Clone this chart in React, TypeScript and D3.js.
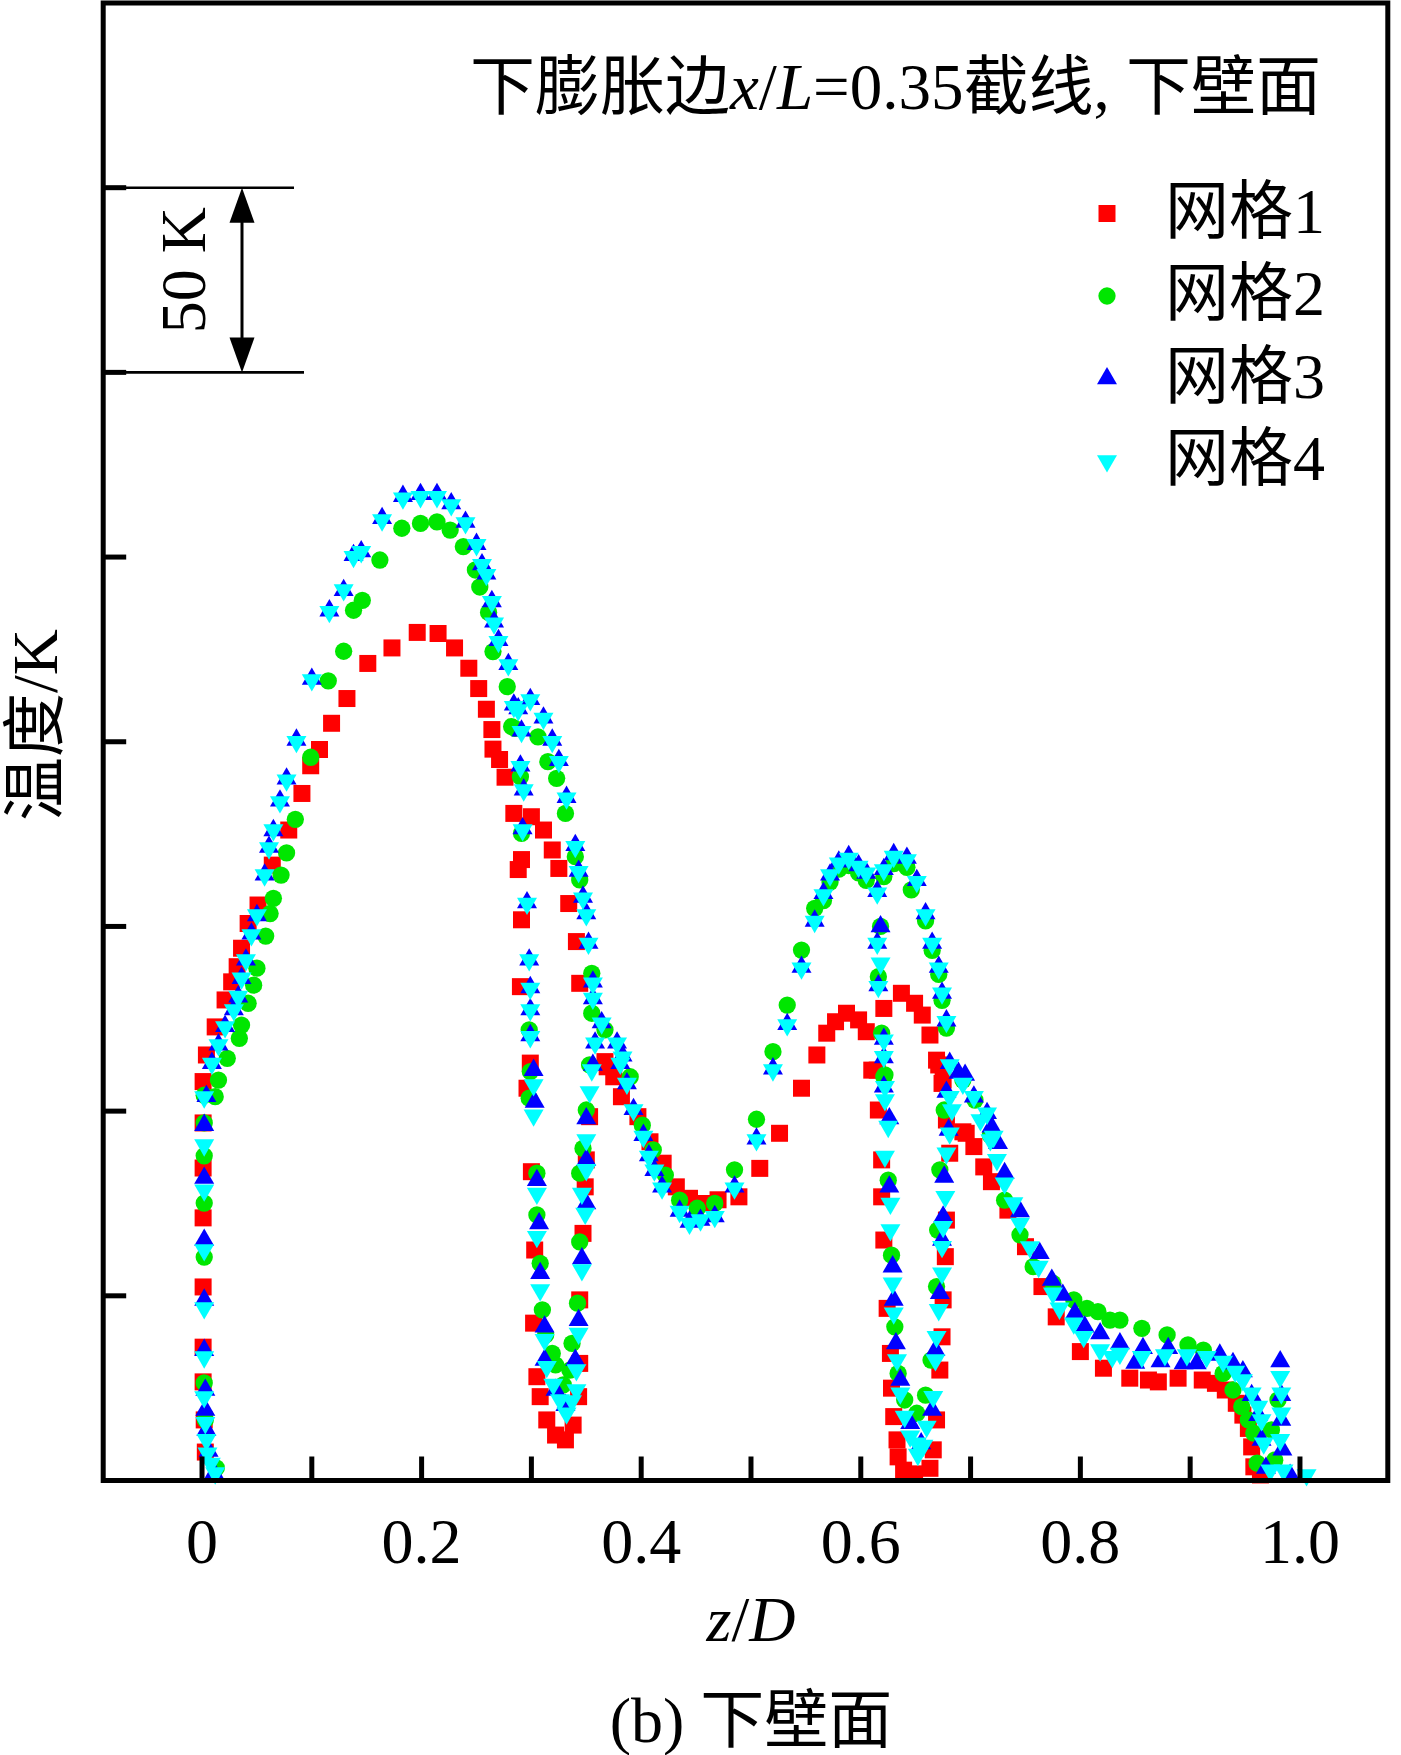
import React from "react";
import * as d3 from "d3";

// z/D , temperature (K above the axis baseline)
const grid1: [number, number][] = [
  [0.001,108.0],[0.001,96.8],[0.001,84.6],[0.001,71.1],[0.001,52.4],[0.001,36.1],[0.001,26.7],[0.002,16.4],[0.003,7.7],
  [0.004,115.2],[0.012,122.8],[0.021,130.1],[0.027,135.0],[0.032,139.1],[0.036,144.1],[0.042,150.8],[0.051,155.8],[0.064,166.6],
  [0.079,176.1],[0.091,186.0],[0.099,193.5],[0.107,197.9],[0.118,205.0],[0.132,211.7],[0.151,221.2],[0.173,225.4],[0.196,229.6],
  [0.215,229.3],[0.230,225.4],[0.243,219.9],[0.252,214.4],[0.259,208.8],[0.264,203.3],[0.265,198.0],[0.271,195.2],[0.276,190.4],
  [0.284,180.6],[0.300,179.7],[0.311,176.1],[0.319,170.7],[0.325,165.7],[0.334,156.2],[0.341,145.9],[0.344,134.6],[0.367,113.4],
  [0.291,168.1],[0.288,165.4],[0.291,151.8],[0.290,133.7],[0.296,106.2],[0.299,113.0],[0.300,83.6],[0.303,62.4],[0.302,42.6],
  [0.305,28.1],[0.308,22.7],[0.314,16.4],[0.322,12.3],[0.331,11.0],[0.338,15.0],[0.343,22.7],[0.344,31.7],[0.344,48.9],
  [0.347,66.9],[0.349,79.5],[0.350,86.8],[0.353,98.5],
  [0.369,112.0],[0.375,109.3],[0.382,103.9],[0.397,98.5],[0.408,91.7],[0.420,85.9],[0.432,79.5],[0.444,76.4],[0.457,75.0],
  [0.470,76.0],[0.489,76.8],[0.508,84.5],[0.526,94.0],[0.546,106.2],[0.560,115.2],[0.569,121.1],[0.577,124.2],[0.587,126.5],
  [0.598,124.7],[0.605,121.5],[0.615,111.1],[0.616,100.3],[0.621,127.8],[0.637,131.9],[0.649,129.2],[0.656,126.0],[0.663,120.6],
  [0.669,113.8],[0.674,107.5],[0.678,97.6],[0.696,94.0],
  [0.610,111.1],[0.619,86.8],[0.619,76.8],[0.621,65.1],[0.624,46.6],[0.627,34.4],[0.628,25.0],[0.630,17.3],[0.633,11.0],
  [0.634,6.4],[0.639,2.8],[0.649,1.8],[0.663,3.3],[0.666,8.3],[0.669,16.4],[0.672,29.9],[0.674,38.9],[0.675,48.9],
  [0.677,60.6],[0.678,70.5],[0.681,88.6],[0.675,108.4],[0.671,112.5],
  [0.693,94.4],[0.703,90.4],[0.712,84.9],[0.719,80.9],[0.734,73.2],[0.750,63.3],[0.765,52.5],[0.778,44.3],[0.800,34.9],
  [0.821,30.4],[0.845,27.7],[0.862,27.2],[0.871,26.7],[0.889,27.7],[0.911,27.2],[0.923,26.3],[0.932,24.5],[0.942,20.9],
  [0.948,17.7],[0.953,14.1],[0.956,9.1],[0.958,3.7],[0.964,1.5],
];

const grid2: [number, number][] = [
  [0.002,104.3],[0.002,96.8],[0.002,87.9],[0.002,75.1],[0.002,60.5],[0.002,26.4],[0.003,16.4],[0.013,3.4],
  [0.012,103.9],[0.015,108.4],[0.023,114.3],[0.034,119.7],[0.036,123.3],[0.042,129.2],[0.047,134.1],[0.050,138.7],[0.058,147.4],
  [0.062,153.5],[0.065,157.6],[0.072,163.9],[0.077,169.9],[0.085,179.0],[0.099,195.8],[0.115,216.5],[0.129,224.5],[0.138,235.6],
  [0.146,238.3],[0.162,249.2],[0.182,257.8],[0.199,259.1],[0.214,259.5],[0.226,257.3],[0.238,252.8],[0.249,246.5],[0.253,241.9],
  [0.261,235.0],[0.265,224.4],[0.278,214.9],[0.282,204.1],[0.285,203.6],[0.306,201.3],[0.315,194.6],[0.323,190.1],[0.290,190.5],
  [0.291,175.2],[0.331,180.6],[0.340,168.9],[0.344,162.6],[0.355,137.3],[0.355,126.5],[0.367,122.0],[0.298,122.0],
  [0.299,110.7],[0.298,103.5],[0.305,83.2],[0.305,71.9],[0.308,58.8],[0.310,46.2],[0.313,39.4],[0.319,34.4],[0.322,31.3],
  [0.329,25.9],[0.335,29.9],[0.337,37.1],[0.342,48.0],[0.344,64.6],[0.344,83.2],[0.347,89.9],[0.350,100.3],[0.353,112.5],
  [0.390,109.3],[0.401,96.2],[0.411,89.5],[0.422,82.7],[0.435,75.9],[0.451,73.7],[0.467,75.0],[0.485,84.1],[0.505,97.8],
  [0.520,116.1],[0.533,128.7],[0.546,143.6],[0.558,154.9],
  [0.566,157.0],[0.572,162.0],[0.580,165.5],[0.589,166.5],[0.598,164.5],[0.605,162.5],[0.621,163.5],[0.630,167.0],[0.642,166.0],
  [0.646,159.9],[0.659,151.5],[0.665,143.5],[0.671,137.0],[0.674,130.0],[0.678,122.5],
  [0.618,150.0],[0.616,136.4],[0.619,121.1],[0.621,109.3],[0.622,109.8],[0.625,81.3],[0.628,61.0],[0.631,41.6],[0.634,29.0],
  [0.640,21.8],[0.651,18.2],[0.659,23.1],[0.664,32.6],[0.669,52.5],[0.670,67.8],[0.672,84.1],[0.676,100.3],
  [0.693,108.4],[0.704,103.0],[0.718,93.5],[0.731,75.9],[0.745,66.5],[0.757,57.9],[0.775,53.4],[0.794,48.9],[0.806,46.6],
  [0.816,45.7],[0.827,43.4],[0.836,43.4],[0.856,41.2],[0.879,39.4],[0.898,36.7],[0.912,35.3],[0.930,29.0],[0.939,24.5],
  [0.947,20.0],[0.953,16.4],[0.958,12.8],[0.961,4.7],[0.974,13.7],[0.980,21.8],[0.977,5.5],
];

const grid3: [number, number][] = [
  [0.002,96.2],[0.002,81.9],[0.002,65.1],[0.002,48.9],[0.002,35.3],[0.003,24.5],[0.003,19.1],[0.004,13.7],[0.006,8.0],[0.011,2.0],
  [0.004,104.0],[0.009,113.0],[0.015,118.0],[0.021,123.0],[0.029,127.5],[0.033,131.0],[0.036,136.0],[0.040,141.0],[0.045,148.0],
  [0.050,153.0],[0.057,164.0],[0.061,171.5],[0.065,176.0],[0.071,184.0],[0.077,190.0],[0.086,200.5],[0.100,217.0],[0.116,235.5],
  [0.129,241.0],[0.138,250.5],[0.145,251.5],[0.164,260.5],[0.183,266.5],[0.199,267.0],[0.214,267.0],[0.227,264.5],[0.240,259.5],
  [0.250,253.5],[0.255,248.0],[0.259,245.5],[0.264,238.0],[0.266,232.5],[0.270,227.5],[0.279,221.0],[0.284,210.0],
  [0.288,209.0],[0.299,211.5],[0.311,206.5],[0.291,203.0],[0.319,200.5],[0.325,195.0],[0.290,193.5],[0.293,187.0],[0.332,185.0],
  [0.292,176.5],[0.340,172.0],[0.343,165.0],[0.296,156.5],[0.347,158.0],[0.350,153.5],[0.352,145.5],[0.298,141.0],[0.299,133.5],
  [0.356,135.0],[0.356,130.5],[0.299,127.5],[0.299,120.5],[0.364,124.0],[0.358,118.5],[0.378,118.5],[0.383,115.0],
  [0.302,111.1],[0.303,102.5],[0.305,81.3],[0.307,69.6],[0.308,56.1],[0.312,41.6],[0.312,32.6],[0.322,24.5],[0.331,20.4],
  [0.340,32.6],[0.343,43.4],[0.346,60.1],[0.350,75.0],[0.350,86.8],[0.350,98.0],[0.356,112.5],
  [0.381,113.0],[0.387,107.5],[0.393,100.5],[0.402,93.5],[0.407,88.0],[0.412,84.0],[0.419,79.5],[0.435,73.0],[0.444,70.0],
  [0.454,70.5],[0.467,71.5],[0.485,79.5],[0.505,92.5],[0.520,111.5],
  [0.533,123.5],[0.546,139.0],[0.558,151.5],[0.566,159.0],[0.572,164.0],[0.580,167.5],[0.589,169.0],[0.598,166.5],[0.605,164.5],
  [0.615,159.5],[0.621,165.5],[0.630,169.5],[0.642,168.5],[0.651,162.5],[0.659,153.5],[0.665,145.5],[0.671,139.0],[0.674,132.0],
  [0.678,124.5],[0.681,113.0],
  [0.618,150.0],[0.615,145.5],[0.616,134.0],[0.621,119.5],[0.621,114.5],
  [0.621,106.6],[0.626,98.0],[0.626,79.5],[0.629,57.9],[0.630,48.9],[0.632,37.1],[0.636,27.2],[0.645,15.5],[0.655,10.0],
  [0.665,19.1],[0.668,35.3],[0.672,50.7],[0.674,65.1],[0.675,71.4],[0.676,82.2],[0.680,94.9],[0.678,105.2],[0.689,110.3],
  [0.695,109.8],
  [0.703,103.9],[0.715,99.4],[0.719,95.8],[0.725,91.3],[0.731,83.2],[0.745,72.8],[0.763,61.5],[0.774,54.3],[0.784,50.2],
  [0.795,45.3],[0.804,41.6],[0.818,39.8],[0.836,37.1],[0.850,31.8],[0.857,35.8],[0.873,32.2],[0.880,35.8],[0.894,31.7],
  [0.906,31.7],[0.927,34.0],[0.939,31.7],[0.948,29.5],[0.956,23.1],[0.962,17.7],[0.965,11.0],[0.969,3.4],[0.982,32.2],
  [0.983,23.1],[0.983,16.4],[0.984,8.3],[0.991,1.5],
];

const grid4: [number, number][] = [
  [0.002,103.8],[0.002,90.8],[0.002,78.6],[0.002,62.4],[0.002,46.7],[0.002,33.4],[0.002,22.6],[0.003,15.6],[0.004,11.0],
  [0.005,7.4],[0.008,4.6],[0.012,2.0],
  [0.009,112.9],[0.015,117.9],[0.021,122.8],[0.029,127.4],[0.033,131.0],[0.036,136.0],[0.040,140.9],[0.045,147.7],[0.050,153.1],
  [0.057,163.9],[0.061,171.2],[0.065,176.1],[0.071,183.7],[0.077,189.6],[0.086,200.0],[0.100,216.7],[0.116,235.2],[0.129,241.1],
  [0.138,250.1],[0.145,251.4],[0.164,260.0],[0.183,265.9],[0.199,266.3],[0.214,266.3],[0.227,264.1],[0.240,259.2],[0.250,253.3],
  [0.255,247.9],[0.259,245.2],[0.264,237.9],[0.266,232.1],[0.270,227.1],[0.279,220.8],[0.284,209.5],
  [0.288,208.6],[0.299,211.3],[0.311,206.3],[0.291,202.7],[0.319,200.0],[0.325,194.6],[0.290,193.2],[0.293,186.9],[0.332,184.7],
  [0.292,176.1],[0.340,171.6],[0.343,164.8],[0.296,156.2],[0.347,157.6],[0.350,153.1],[0.352,145.4],[0.298,140.9],[0.299,133.2],
  [0.356,134.6],[0.356,130.5],[0.299,127.4],[0.299,120.1],[0.364,123.8],[0.358,118.4],[0.378,118.4],[0.383,114.6],
  [0.302,107.1],[0.302,98.9],[0.305,77.7],[0.305,66.0],[0.308,51.6],[0.312,38.1],[0.314,30.8],[0.320,26.0],[0.326,21.8],
  [0.332,18.2],[0.337,21.5],[0.341,24.5],[0.341,29.9],[0.343,39.8],[0.346,57.0],[0.349,72.3],[0.346,77.7],[0.350,84.1],
  [0.350,92.2],[0.353,105.2],[0.355,111.1],
  [0.381,112.9],[0.387,107.5],[0.393,100.3],[0.402,93.1],[0.407,87.7],[0.412,84.0],[0.419,79.1],[0.435,72.8],[0.444,69.6],
  [0.454,70.5],[0.467,71.4],[0.485,79.1],[0.505,92.2],[0.520,111.1],
  [0.533,123.3],[0.546,138.7],[0.558,151.3],[0.566,158.5],[0.572,163.9],[0.580,167.1],[0.589,168.4],[0.598,166.2],[0.605,164.4],
  [0.615,159.0],[0.621,165.3],[0.630,168.9],[0.642,168.0],[0.651,162.1],[0.659,153.1],[0.665,145.4],[0.671,138.7],[0.674,131.9],
  [0.678,124.2],[0.681,112.5],
  [0.615,145.4],[0.618,140.0],[0.616,133.7],[0.621,119.2],[0.621,114.7],[0.622,106.6],[0.622,103.0],[0.625,95.8],[0.622,87.7],
  [0.627,75.0],[0.627,67.8],[0.629,53.4],[0.630,45.3],[0.633,32.6],[0.636,23.6],[0.640,17.3],[0.645,12.0],[0.651,10.1],
  [0.652,7.0],[0.657,9.5],[0.660,14.6],[0.666,22.7],[0.668,32.6],[0.669,38.9],[0.671,46.2],[0.674,56.1],[0.674,63.3],
  [0.675,68.7],[0.677,76.8],[0.678,88.6],[0.683,100.3],
  [0.681,103.9],[0.693,107.5],[0.703,103.9],[0.715,99.4],[0.721,93.1],[0.681,94.0],
  [0.709,97.6],[0.718,92.2],[0.724,86.8],[0.731,80.5],[0.739,75.1],[0.745,69.6],[0.754,63.2],[0.762,57.9],[0.775,50.7],
  [0.781,46.6],[0.794,42.6],[0.803,38.9],[0.818,35.3],[0.829,33.5],[0.836,34.4],[0.856,33.5],[0.877,34.0],[0.897,34.0],
  [0.915,33.5],[0.930,32.2],[0.941,29.5],[0.948,27.2],[0.956,23.6],[0.962,20.0],[0.965,16.4],[0.967,10.1],[0.973,2.8],
  [0.982,28.1],[0.983,23.6],[0.983,18.2],[0.982,11.0],[0.985,2.8],[1.006,1.5],
];

const seriesNames = ["网格1", "网格2", "网格3", "网格4"];
const seriesColors = ["#ff0000", "#00e600", "#0000ff", "#00ffff"];
const xTicks = [0, 0.1, 0.2, 0.3, 0.4, 0.5, 0.6, 0.7, 0.8, 0.9, 1.0];
const xLabelValues = [0, 0.2, 0.4, 0.6, 0.8, 1.0];
const xTickLabels = ["0", "0.2", "0.4", "0.6", "0.8", "1.0"];
const yTicks = [50, 100, 150, 200, 250, 300, 350];
const scaleBarRange = [300, 350];
const scaleBarLabel = "50 K";

const FONT = "'Liberation Serif','Times New Roman','Noto Sans CJK SC',serif";

export default function App() {
  const W = 1401;
  const H = 1755;
  const x = d3.scaleLinear().domain([-0.09, 1.08]).range([103.2, 1387.8]);
  const y = d3.scaleLinear().domain([0, 400]).range([1480.5, 3]);
  const [x0, x1] = x.range();
  const [yb, yt] = y.range();

  const symSquare = d3.symbol().type(d3.symbolSquare).size(289)() as string;
  const symCircle = d3.symbol().type(d3.symbolCircle).size(235)() as string;
  const symTri = d3.symbol().type(d3.symbolTriangle).size(173)() as string;

  const series = [
    { data: grid1, path: symSquare, rot: 0 },
    { data: grid2, path: symCircle, rot: 0 },
    { data: grid3, path: symTri, rot: 0 },
    { data: grid4, path: symTri, rot: 180 },
  ];

  const legendY0 = 213.5;
  const legendStep = 82.5;
  const legendX = 1107;

  const ySB0 = y(scaleBarRange[0]);
  const ySB1 = y(scaleBarRange[1]);
  const arrowX = 242;
  const ahW = 12.5;
  const ahL = 35;

  return (
    <svg
      width={W}
      height={H}
      viewBox={`0 0 ${W} ${H}`}
      style={{ position: "absolute", left: 0, top: 0, background: "#fff" }}
      fontFamily={FONT}
    >
      <rect x={0} y={0} width={W} height={H} fill="#fff" />

      {/* data */}
      {series.map((s, si) => (
        <g key={si} fill={seriesColors[si]}>
          {s.data.map((d, i) => (
            <path
              key={i}
              d={s.path}
              transform={`translate(${x(d[0])},${y(d[1])})${s.rot ? ` rotate(${s.rot})` : ""}`}
            />
          ))}
        </g>
      ))}

      {/* frame */}
      <rect x={x0} y={yt} width={x1 - x0} height={yb - yt} fill="none" stroke="#000" strokeWidth={5} />

      {/* x ticks */}
      {xTicks.map((t, i) => (
        <line key={i} x1={x(t)} x2={x(t)} y1={yb} y2={yb - 24} stroke="#000" strokeWidth={5} />
      ))}
      {/* y ticks */}
      {yTicks.map((t, i) => (
        <line key={i} x1={x0} x2={x0 + 23} y1={y(t)} y2={y(t)} stroke="#000" strokeWidth={5} />
      ))}

      {/* x tick labels */}
      {xLabelValues.map((t, i) => (
        <text key={i} x={x(t)} y={1563} fontSize={64} textAnchor="middle" fill="#000">
          {xTickLabels[i]}
        </text>
      ))}

      {/* scale bar */}
      <line x1={x0} x2={294} y1={ySB1} y2={ySB1} stroke="#000" strokeWidth={2.6} />
      <line x1={x0} x2={304} y1={ySB0} y2={ySB0} stroke="#000" strokeWidth={2.6} />
      <line x1={arrowX} x2={arrowX} y1={ySB1 + ahL - 2} y2={ySB0 - ahL + 2} stroke="#000" strokeWidth={3} />
      <path d={`M${arrowX},${ySB1} L${arrowX - ahW},${ySB1 + ahL} L${arrowX + ahW},${ySB1 + ahL} Z`} fill="#000" />
      <path d={`M${arrowX},${ySB0} L${arrowX - ahW},${ySB0 - ahL} L${arrowX + ahW},${ySB0 - ahL} Z`} fill="#000" />
      <text
        transform={`translate(205,${(ySB0 + ySB1) / 2 - 10}) rotate(-90)`}
        fontSize={64}
        textAnchor="middle"
        fill="#000"
      >
        {scaleBarLabel}
      </text>

      {/* title */}
      <text x={1321} y={109} fontSize={65} textAnchor="end" fill="#000">
        下膨胀边<tspan fontStyle="italic">x</tspan>/<tspan fontStyle="italic">L</tspan>=0.35截线, 下壁面
      </text>

      {/* legend */}
      {seriesNames.map((n, i) => {
        const ly = legendY0 + i * legendStep;
        const s = series[i];
        return (
          <g key={i}>
            <path
              d={s.path}
              fill={seriesColors[i]}
              transform={`translate(${legendX},${ly})${s.rot ? ` rotate(${s.rot})` : ""}`}
            />
            <text x={1165} y={ly + 19} fontSize={64} fill="#000">
              {n}
            </text>
          </g>
        );
      })}

      {/* axis titles */}
      <text transform="translate(57,725) rotate(-90)" fontSize={64} textAnchor="middle" fill="#000">
        温度/K
      </text>
      <text x={x(0.5)} y={1641} fontSize={64} textAnchor="middle" fill="#000">
        <tspan fontStyle="italic">z</tspan>/<tspan fontStyle="italic">D</tspan>
      </text>
      <text x={x(0.5)} y={1742} fontSize={64} textAnchor="middle" fill="#000">
        (b) 下壁面
      </text>
    </svg>
  );
}
